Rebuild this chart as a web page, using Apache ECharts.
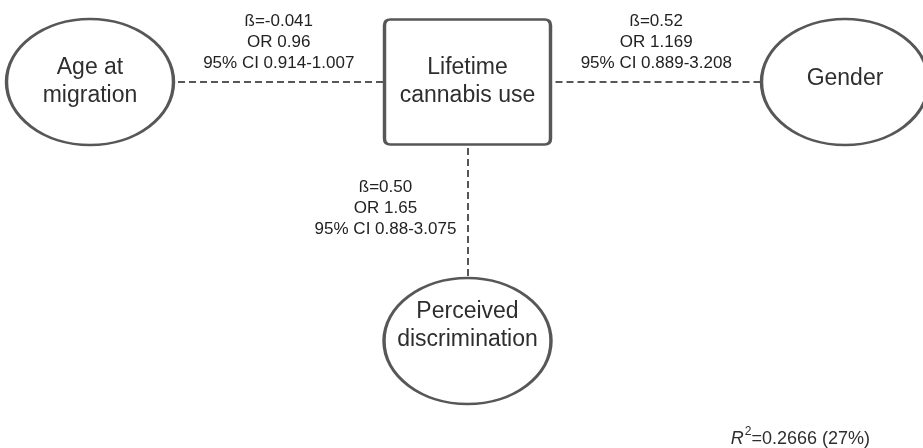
<!DOCTYPE html>
<html>
<head>
<meta charset="utf-8">
<script src="https://cdn.jsdelivr.net/npm/echarts@6/dist/echarts.min.js"></script>
<style>
  html, body { margin: 0; padding: 0; background: #ffffff; }
  #chart { width: 923px; height: 448px; }
</style>
</head>
<body>
<div id="chart"></div>
<script>
// ---- data ----
const nodeNames = ['Age at\nmigration', 'Lifetime\ncannabis use', 'Gender', 'Perceived\ndiscrimination'];
const nodeCol = [0, 1, 2, 1];      // logical column of each node
const nodeRow = [0, 0, 0, 1];      // logical row of each node
const nodeKind = ['ellipse', 'box', 'ellipse', 'ellipse'];
const edgeFrom = [0, 1, 1];
const edgeTo = [1, 2, 3];
const edgeBeta = ['-0.041', '0.52', '0.50'];
const edgeOR = ['0.96', '1.169', '1.65'];
const edgeCI = ['0.914-1.007', '0.889-3.208', '0.88-3.075'];
const rSquared = '0.2666';
const rSquaredPct = '27%';

// ---- styles ----
const FONT = 'Liberation Sans, Arial, sans-serif';
const STROKE = '#575757';
const TEXT = '#2e2e2e';
const ellipsePath = 'path://M0,-1 C0.5523,-1 1,-0.5523 1,0 C1,0.5523 0.5523,1 0,1 C-0.5523,1 -1,0.5523 -1,0 C-1,-0.5523 -0.5523,-1 0,-1 Z';
const boxPath = 'path://M6,0 H160 Q166,0 166,6 V119 Q166,125 160,125 H6 Q0,125 0,119 V6 Q0,0 6,0 Z';
const symbolFor = { ellipse: ellipsePath, box: boxPath };
const sizeFor = { ellipse: [167, 126], box: [166, 125] };
const labelOffset = [[0, 0], [0, 0], [0, -3], [0, -15]];

const nodeData = nodeNames.map((n, i) => ({
  value: [nodeCol[i], nodeRow[i]],
  name: n,
  symbol: symbolFor[nodeKind[i]],
  symbolSize: sizeFor[nodeKind[i]],
  label: { offset: labelOffset[i] }
}));

const edgeLines = edgeFrom.map((f, i) => ({
  coords: [[nodeCol[f], nodeRow[f]], [nodeCol[edgeTo[i]], nodeRow[edgeTo[i]]]]
}));

const edgeLabelData = edgeFrom.map((f, i) => {
  const t = edgeTo[i];
  const horizontal = nodeRow[f] === nodeRow[t];
  const txt = 'ß=' + edgeBeta[i] + '\nOR ' + edgeOR[i] + '\n95% CI ' + edgeCI[i];
  return {
    value: [(nodeCol[f] + nodeCol[t]) / 2, (nodeRow[f] + nodeRow[t]) / 2],
    name: txt,
    label: horizontal
      ? { position: 'inside', offset: [0, -40], align: 'center' }
      : { position: 'inside', offset: [-82, -3], align: 'center' }
  };
});

const chart = echarts.init(document.getElementById('chart'), null, { renderer: 'canvas' });
chart.setOption({
  backgroundColor: '#ffffff',
  animation: false,
  title: {
    text: '{i|R}{sup|2}{n|=' + rSquared + ' (' + rSquaredPct + ')}',
    right: 48,
    top: 421,
    textStyle: {
      fontWeight: 'normal',
      rich: {
        i: { fontFamily: FONT, fontSize: 18, fontStyle: 'italic', fontWeight: 'normal', color: TEXT, lineHeight: 22, verticalAlign: 'bottom' },
        sup: { fontFamily: FONT, fontSize: 12, fontWeight: 'normal', color: TEXT, lineHeight: 18, verticalAlign: 'top', padding: [0, 0, 0, 1] },
        n: { fontFamily: FONT, fontSize: 18, fontWeight: 'normal', color: TEXT, lineHeight: 22, verticalAlign: 'bottom' }
      }
    }
  },
  grid: { left: 90, right: 78, top: 82, bottom: 107 },
  xAxis: { type: 'value', min: 0, max: 2, show: false },
  yAxis: { type: 'value', min: 0, max: 1, inverse: true, show: false },
  series: [
    {
      type: 'lines',
      coordinateSystem: 'cartesian2d',
      z: 1,
      silent: true,
      lineStyle: { color: STROKE, width: 2, type: [7, 4], opacity: 1, curveness: 0 },
      data: edgeLines
    },
    {
      type: 'scatter',
      z: 3,
      silent: true,
      itemStyle: { color: '#ffffff', borderColor: STROKE, borderWidth: 3, opacity: 1 },
      label: {
        show: true,
        position: 'inside',
        formatter: p => p.name,
        fontFamily: FONT,
        fontSize: 23,
        lineHeight: 28,
        color: TEXT
      },
      data: nodeData
    },
    {
      type: 'scatter',
      z: 4,
      silent: true,
      symbolSize: 1,
      itemStyle: { color: 'rgba(255,255,255,0)' },
      label: {
        show: true,
        formatter: p => p.name,
        fontFamily: FONT,
        fontSize: 17,
        lineHeight: 21,
        color: '#222222',
        opacity: 1
      },
      data: edgeLabelData
    }
  ]
});
</script>
</body>
</html>
